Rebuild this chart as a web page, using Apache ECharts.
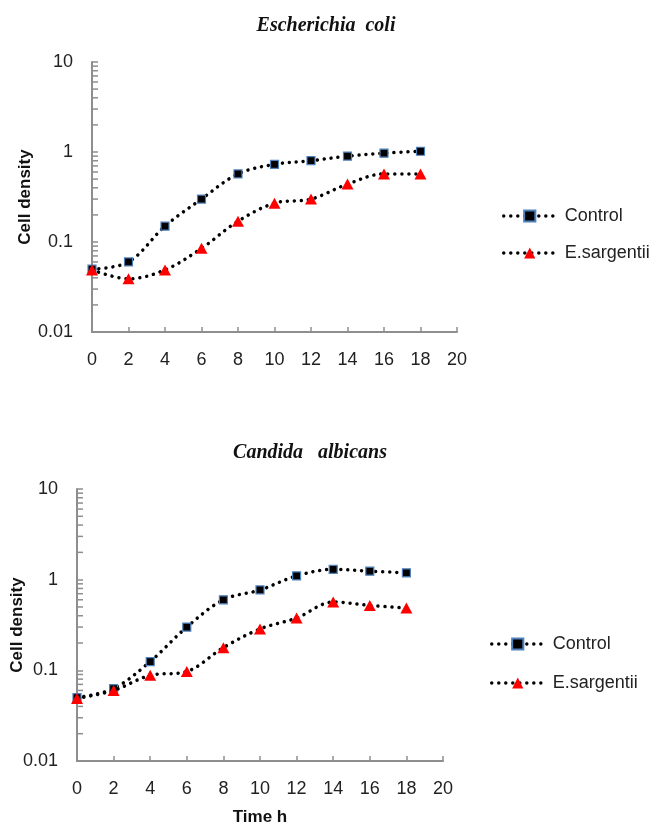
<!DOCTYPE html>
<html><head><meta charset="utf-8">
<script src="https://cdn.jsdelivr.net/npm/echarts@6/dist/echarts.min.js"></script>
<style>html,body{margin:0;padding:0;background:#fff}#c{width:654px;height:828px}</style>
</head><body><div id="c"></div>
<script>
// ---- data ----
const hours = [0, 2, 4, 6, 8, 10, 12, 14, 16, 18];
const ecoliControl = [0.05, 0.06, 0.15, 0.30, 0.57, 0.73, 0.80, 0.90, 0.97, 1.02];
const ecoliSargentii = [0.049, 0.039, 0.049, 0.085, 0.17, 0.27, 0.30, 0.44, 0.57, 0.57];
const candidaControl = [0.05, 0.063, 0.125, 0.30, 0.60, 0.77, 1.10, 1.30, 1.24, 1.19];
const candidaSargentii = [0.049, 0.06, 0.088, 0.097, 0.178, 0.286, 0.378, 0.567, 0.52, 0.487];
const seriesNames = ['Control', 'E.sargentii'];
const chartTitles = ['Escherichia  coli', 'Candida   albicans'];
const yAxisTitle = 'Cell density';
const xAxisTitle = 'Time h';
const minorTickValues = [0.02,0.03,0.04,0.05,0.06,0.07,0.08,0.09,0.2,0.3,0.4,0.5,0.6,0.7,0.8,0.9,2,3,4,5,6,7,8,9];

// ---- styles ----
const axisGray = '#8e8e8e';
const labelFont = {color: '#222', fontSize: 18, fontFamily: 'Liberation Sans, Arial, sans-serif'};
const grids = [
  {left: 92, top: 62, width: 365, height: 270},
  {left: 77, top: 489, width: 366, height: 272}
];

function pair(xs, ys) { return xs.map((x, i) => [x, ys[i]]); }

const xAxes = grids.map((g, i) => ({
  type: 'value', gridIndex: i, min: 0, max: 20, interval: 2,
  axisLine: {lineStyle: {color: axisGray, width: 2}},
  axisTick: {inside: true, length: 5, lineStyle: {color: axisGray, width: 1.5}},
  axisLabel: Object.assign({margin: 19}, labelFont),
  splitLine: {show: false},
  name: i === 1 ? xAxisTitle : '',
  nameLocation: 'middle', nameGap: 48, nameMoveOverlap: false,
  nameTextStyle: {fontSize: 17, fontWeight: 'bold', color: '#111', fontFamily: 'Liberation Sans, Arial, sans-serif'}
}));
const yAxes = grids.map((g, i) => ({
  type: 'log', logBase: 10, gridIndex: i, min: 0.01, max: 10,
  axisLine: {show: true, lineStyle: {color: axisGray, width: 2}},
  axisTick: {show: true, inside: true, length: 6, lineStyle: {color: axisGray, width: 1.5}},
  axisLabel: Object.assign({margin: 19, formatter: v => String(+(+v).toPrecision(3))}, labelFont),
  splitLine: {show: false},
  minorTick: {show: false},
  name: yAxisTitle, nameLocation: 'middle', nameRotate: 90, nameMoveOverlap: false,
  nameGap: i === 0 ? 58 : 51,
  nameTextStyle: {fontSize: 17, fontWeight: 'bold', color: '#111', fontFamily: 'Liberation Sans, Arial, sans-serif'}
}));

const lineStyle = {color: '#000', width: 3.5, type: [0.01, 7], cap: 'round'};
function controlSeries(idx, vals) {
  return {
    name: seriesNames[0], type: 'line', xAxisIndex: idx, yAxisIndex: idx,
    data: pair(hours, vals), smooth: 0.35,
    symbol: 'rect', symbolSize: 8,
    itemStyle: {color: '#000', borderColor: '#4f81bd', borderWidth: 1.2},
    lineStyle: lineStyle, z: 3
  };
}
function sargSeries(idx, vals) {
  return {
    name: seriesNames[1], type: 'line', xAxisIndex: idx, yAxisIndex: idx,
    data: pair(hours, vals), smooth: 0.35,
    symbol: 'triangle', symbolSize: [12, 11],
    itemStyle: {color: '#ff0000'},
    lineStyle: lineStyle, z: 4
  };
}
function minorTickSeries(idx) {
  return {
    type: 'custom', xAxisIndex: idx, yAxisIndex: idx, silent: true, z: 1,
    data: minorTickValues.map(v => [0, v]),
    renderItem: (params, api) => {
      const p = api.coord([0, api.value(1)]);
      return {type: 'line', shape: {x1: p[0], y1: p[1], x2: p[0] + 6, y2: p[1]},
        style: {stroke: axisGray, lineWidth: 1.5}};
    }
  };
}

const titleStyle = {fontFamily: 'Liberation Serif, Times New Roman, serif', fontStyle: 'italic', fontWeight: 'bold', fontSize: 20, color: '#111'};
const legendBase = {
  orient: 'vertical', data: seriesNames, itemWidth: 52, itemHeight: 14,
  lineStyle: {width: 3.5, type: [0.01, 7], cap: 'round', color: '#000'},
  textStyle: {color: '#222', fontSize: 18, fontFamily: 'Liberation Sans, Arial, sans-serif', padding: [0, 0, 0, 4]}
};

const chart = echarts.init(document.getElementById('c'), null, {renderer: 'canvas'});
chart.setOption({
  animation: false,
  backgroundColor: '#fff',
  title: [
    {text: chartTitles[0], left: 321, top: 11, textAlign: 'center', textStyle: titleStyle},
    {text: chartTitles[1], left: 305, top: 438, textAlign: 'center', textStyle: titleStyle}
  ],
  legend: [
    Object.assign({left: 497, top: 202, itemGap: 19}, legendBase),
    Object.assign({left: 485, top: 630, itemGap: 21}, legendBase)
  ],
  grid: grids,
  xAxis: xAxes,
  yAxis: yAxes,
  series: [
    minorTickSeries(0), controlSeries(0, ecoliControl), sargSeries(0, ecoliSargentii),
    minorTickSeries(1), controlSeries(1, candidaControl), sargSeries(1, candidaSargentii)
  ]
});
</script></body></html>
